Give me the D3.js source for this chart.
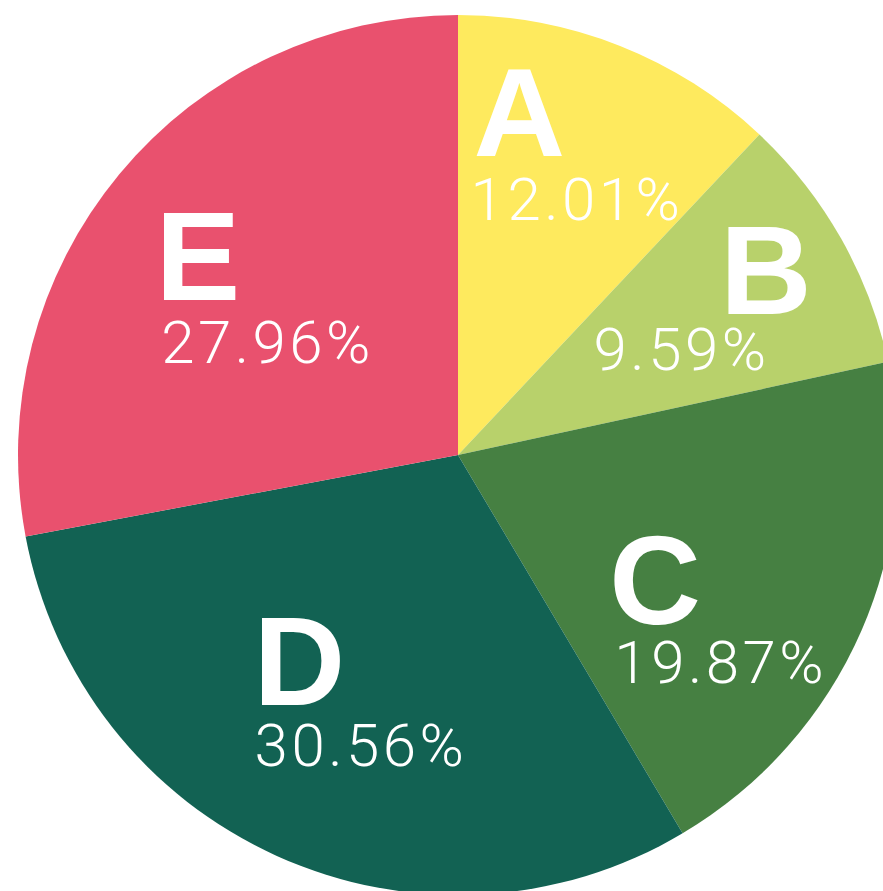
<!DOCTYPE html>
<html>
<head>
<meta charset="utf-8">
<script src="https://cdn.jsdelivr.net/npm/d3@7/dist/d3.min.js"></script>
<style>
  html, body { margin: 0; padding: 0; background: #fff; }
  svg { display: block; }
</style>
</head>
<body>
<svg id="chart" width="883" height="891"></svg>
<script>
// ---- data ----
const categories = ["A", "B", "C", "D", "E"];
const values = [12.01, 9.59, 19.87, 30.56, 27.96];
const colors = ["#FEEA5E", "#B8D16B", "#468042", "#126253", "#E9516E"];

// ---- layout ----
const W = 883, H = 891;
const cx = 458, cy = 455, R = 440;
const labelR = R * 0.6;
// label nudges relative to the slice centroid (letter, percentage)
const letterNudge = {A: [-36, -54], B: [78, -11], C: [-45, 64], D: [-50, 9], E: [-57, 14]};
const pctNudge = {A: [20, 10], B: [-8, 45], C: [19, 123], D: [10, 70], E: [11, 77]};
const pctSpacing = 3.5;

const svg = d3.select("#chart");
const g = svg.append("g").attr("transform", `translate(${cx},${cy})`);

const data = categories.map((c, i) => ({cat: c, value: values[i], color: colors[i]}));

const pie = d3.pie().value(d => d.value).sort(null);
const arc = d3.arc().innerRadius(0).outerRadius(R);
const labelArc = d3.arc().innerRadius(labelR).outerRadius(labelR);

const arcs = pie(data);

g.selectAll("path.slice")
  .data(arcs)
  .join("path")
  .attr("class", "slice")
  .attr("d", arc)
  .attr("fill", d => d.data.color);

const labels = g.selectAll("g.label")
  .data(arcs)
  .join("g")
  .attr("class", "label");

labels.append("text")
  .attr("x", d => labelArc.centroid(d)[0] + letterNudge[d.data.cat][0])
  .attr("y", d => labelArc.centroid(d)[1] + letterNudge[d.data.cat][1])
  .attr("text-anchor", "middle")
  .attr("fill", "#fff")
  .style("font-family", "'Liberation Sans', Arial, Helvetica, sans-serif")
  .style("font-weight", "bold")
  .style("font-size", "127px")
  .text(d => d.data.cat);

labels.append("text")
  .attr("x", d => labelArc.centroid(d)[0] + pctNudge[d.data.cat][0] + pctSpacing / 2)
  .attr("y", d => labelArc.centroid(d)[1] + pctNudge[d.data.cat][1])
  .attr("text-anchor", "middle")
  .attr("fill", "#fff")
  .style("font-family", "Roboto, 'Liberation Sans', sans-serif")
  .style("font-weight", "300")
  .style("font-size", "60px")
  .style("letter-spacing", pctSpacing + "px")
  .text(d => d3.format(".2f")(d.data.value) + "%");
</script>
</body>
</html>
